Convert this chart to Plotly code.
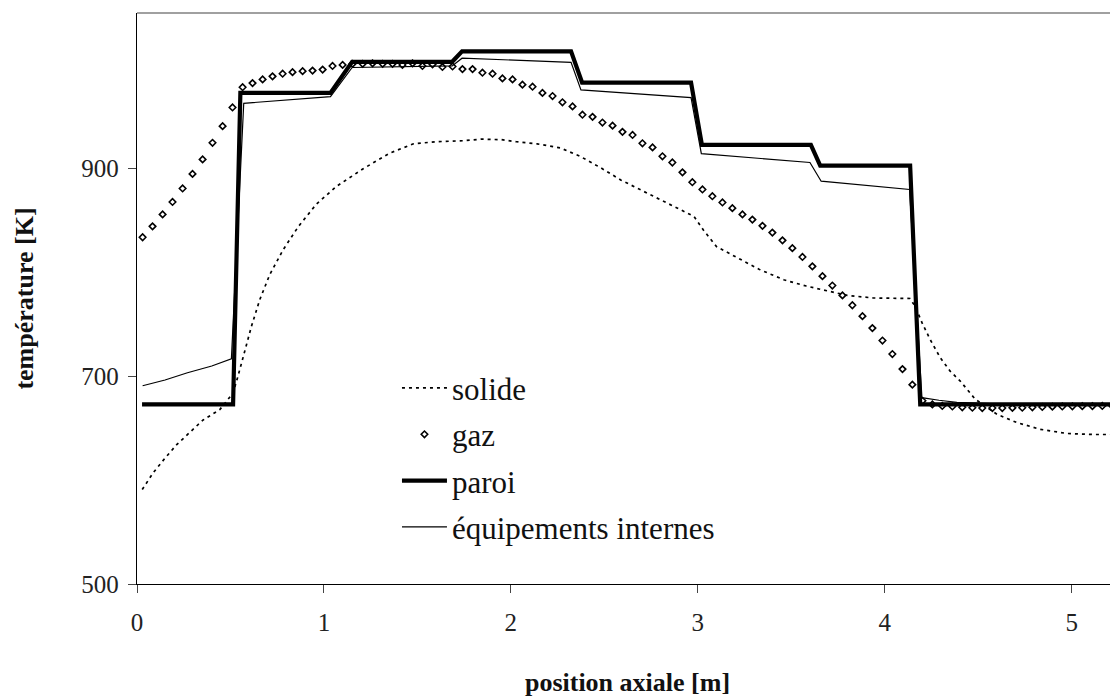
import plotly.graph_objects as go

# ---------------- data ----------------
solide_x = [0.028, 0.086, 0.149, 0.211, 0.282, 0.354, 0.443, 0.514, 0.540, 0.568, 0.612, 0.657,
            0.710, 0.782, 0.862, 0.960, 1.067, 1.210, 1.352, 1.479, 1.600, 1.750, 1.840, 1.950,
            2.030, 2.140, 2.265, 2.370, 2.480, 2.590, 2.710, 2.820, 2.930, 2.980, 3.030, 3.100,
            3.230, 3.330, 3.460, 3.580, 3.690, 3.800, 3.940, 4.135, 4.163, 4.200, 4.243, 4.297,
            4.350, 4.404, 4.484, 4.600, 4.707, 4.832, 4.974, 5.116, 5.300]
solide_T = [591, 607, 621, 634, 646, 658, 668, 684, 700, 719, 748, 774,
            798, 822, 844, 866, 883, 900, 915, 924, 926, 927, 928.5, 928,
            926, 924, 920, 912, 901, 889, 878, 868, 858, 854, 841, 825,
            812.5, 803, 793, 787, 782.5, 778, 775.5, 775, 767.5, 751.5, 735.5, 718,
            705, 695.5, 678, 663.5, 655.5, 649, 645, 644, 644]

gaz_x = [0.030, 0.083, 0.137, 0.190, 0.244, 0.297, 0.351, 0.404, 0.458, 0.511,
         0.565, 0.618, 0.672, 0.725, 0.779, 0.832, 0.886, 0.939, 0.993, 1.046,
         1.100, 1.153, 1.207, 1.260, 1.314, 1.367, 1.420, 1.474, 1.527, 1.581,
         1.634, 1.688, 1.741, 1.795, 1.848, 1.902, 1.955, 2.009, 2.062, 2.116,
         2.169, 2.223, 2.276, 2.330, 2.383, 2.437, 2.490, 2.544, 2.597, 2.651,
         2.704, 2.758, 2.811, 2.864, 2.918, 2.971, 3.025, 3.078, 3.132, 3.185,
         3.239, 3.292, 3.346, 3.399, 3.453, 3.506, 3.560, 3.613, 3.667, 3.720,
         3.774, 3.827, 3.881, 3.934, 3.988, 4.041, 4.095, 4.148, 4.202, 4.255,
         4.308, 4.362, 4.415, 4.469, 4.522, 4.576, 4.629, 4.683, 4.736, 4.790,
         4.843, 4.897, 4.950, 5.004, 5.057, 5.111, 5.164, 5.218]
gaz_T = [834, 844.5, 856, 868, 881, 895, 909, 925, 941, 959,
         978.5, 982.5, 986, 989, 991.5, 993, 994, 994.5, 995.5, 999,
         1000, 1001, 1001, 1001.5, 1001, 1001, 1000, 1001.5, 999, 1000.5,
         998, 998.5, 996, 996, 992.5, 991.5, 987, 986, 981, 979,
         973, 970, 964, 960, 952, 950, 944.5, 941.5, 935.5, 932.5,
         924.5, 920.5, 912, 906, 896.5, 887, 880, 873.5, 867.5, 862,
         856, 851, 845, 838.5, 831, 823.5, 815, 806, 796.5, 787.5,
         778, 768.5, 758, 746.5, 734.5, 721.5, 707, 692, 676.5, 673,
         671.5, 671, 670.2, 669.8, 669.5, 669.5, 669.5, 669.7, 669.8, 670.2,
         670.5, 670.8, 671, 671.2, 671.3, 671.4, 671.5, 671.5]

paroi_x = [0.027, 0.514, 0.553, 1.035, 1.151, 1.686, 1.739, 2.322, 2.381, 2.964,
           3.022, 3.605, 3.655, 4.136, 4.190, 5.300]
paroi_T = [673, 673, 973, 973, 1003, 1003, 1013, 1013, 983, 983,
           923, 923, 903, 903, 673, 673]

equip_x = [0.030, 0.150, 0.270, 0.400, 0.505, 0.571, 1.035, 1.151, 1.686, 1.739,
           2.322, 2.375, 2.964, 3.019, 3.600, 3.660, 4.133, 4.199, 4.290, 4.386,
           4.600, 5.300]
equip_T = [691, 696.5, 703.5, 710, 717, 963, 969.5, 997.5, 999, 1006.5,
           1002.5, 976, 968.5, 914.5, 906, 888, 880, 679.5, 677, 675,
           673.5, 673]

series_names = ["solide", "gaz", "paroi", "équipements internes"]
x_ticks = [0, 1, 2, 3, 4, 5]
y_ticks = [500, 700, 900]
x_title = "position axiale [m]"
y_title = "température [K]"

FONT = "Liberation Serif"

fig = go.Figure()
fig.add_trace(go.Scatter(x=solide_x, y=solide_T, mode="lines", name=series_names[0],
                         legendgroup="a",
                         line=dict(color="black", width=1.7, dash="3px,4px")))
fig.add_trace(go.Scatter(x=gaz_x, y=gaz_T, mode="markers", name=series_names[1],
                         legendgroup="b",
                         marker=dict(symbol="diamond-open", size=5, color="black",
                                     line=dict(color="black", width=1.6))))
fig.add_trace(go.Scatter(x=paroi_x, y=paroi_T, mode="lines", name=series_names[2],
                         legendgroup="c",
                         line=dict(color="black", width=4.2)))
fig.add_trace(go.Scatter(x=equip_x, y=equip_T, mode="lines", name=series_names[3],
                         legendgroup="d",
                         line=dict(color="black", width=1.2)))

# the page body adds an 8px offset, so the figure is drawn 8px smaller
fig.update_layout(
    width=1110, height=689,
    margin=dict(l=129, r=0, t=5, b=113, autoexpand=False),
    paper_bgcolor="white", plot_bgcolor="white",
    font=dict(family=FONT, color="black", size=25),
    showlegend=True,
    legend=dict(x=0.265, y=0.39, xanchor="left", yanchor="top", itemwidth=45,
                bgcolor="rgba(0,0,0,0)", font=dict(family=FONT, size=31, color="#111"),
                tracegroupgap=3, traceorder="grouped"),
    xaxis=dict(range=[0, 5.248], tickvals=x_ticks, ticktext=[str(v) for v in x_ticks],
               showgrid=False, zeroline=False, showline=True, linecolor="black", linewidth=1.3,
               ticks="outside", ticklen=8, tickcolor="#444", tickwidth=1.3, automargin=False,
               tickfont=dict(family=FONT, size=25, color="#222"), ticklabelstandoff=8,
               title=dict(text="<b>" + x_title + "</b>", font=dict(family=FONT, size=26, color="#111"),
                          standoff=50)),
    yaxis=dict(range=[500, 1050], tickvals=y_ticks, ticktext=[str(v) for v in y_ticks],
               showgrid=False, zeroline=False, showline=True, linecolor="black", linewidth=1.3,
               ticks="outside", ticklen=8, tickcolor="#444", tickwidth=1.3, automargin=False,
               tickfont=dict(family=FONT, size=25, color="#222"), ticklabelstandoff=4,
               title=dict(text="<b>" + y_title + "</b>", font=dict(family=FONT, size=26, color="#111"),
                          standoff=40)),
)

# grey top border of the plot area
fig.add_shape(type="line", xref="paper", yref="paper", x0=0, x1=1, y0=1, y1=1,
              line=dict(color="#808080", width=1.5))

fig.write_html("out.html")
